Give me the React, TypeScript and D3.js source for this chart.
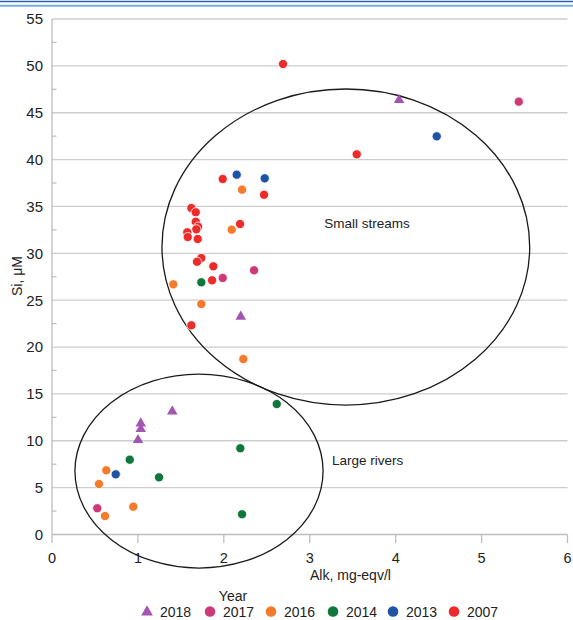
import React from "react";
import * as d3 from "d3";

const W = 573;
const H = 620;

const years = ["2018", "2017", "2016", "2014", "2013", "2007"];
const colors = ["#a455b1", "#cc3a78", "#f47a2c", "#10763b", "#1f53a6", "#ee2b2b"];

const x2018 = [2.197, 4.04, 1.033, 1.033, 1.001, 1.4];
const y2018 = [23.24, 46.36, 11.86, 11.26, 10.08, 13.14];

const x2017 = [1.987, 2.352, 5.433, 0.527];
const y2017 = [27.37, 28.19, 46.18, 2.8];

const x2016 = [2.212, 2.092, 1.412, 1.738, 2.227, 0.632, 0.547, 0.617, 0.946];
const y2016 = [36.79, 32.52, 26.69, 24.59, 18.72, 6.85, 5.39, 1.97, 2.97];

const x2014 = [1.738, 2.616, 2.192, 0.905, 1.246, 2.212];
const y2014 = [26.91, 13.92, 9.2, 7.98, 6.1, 2.16];

const x2013 = [2.15, 2.476, 4.478, 0.742];
const y2013 = [38.39, 38.0, 42.48, 6.42];

const x2007 = [2.689, 3.547, 1.987, 2.468, 1.622, 1.673, 1.673, 1.7, 1.68, 1.575, 1.58, 1.696, 2.189, 1.738, 1.688, 1.878, 1.863, 1.622];
const y2007 = [50.2, 40.56, 37.93, 36.25, 34.83, 34.38, 33.37, 32.84, 32.56, 32.24, 31.74, 31.53, 33.13, 29.5, 29.1, 28.61, 27.12, 22.32];

const seriesX = [x2018, x2017, x2016, x2014, x2013, x2007];
const seriesY = [y2018, y2017, y2016, y2014, y2013, y2007];

const xTicks = [0, 1, 2, 3, 4, 5, 6];
const yTicks = [0, 5, 10, 15, 20, 25, 30, 35, 40, 45, 50, 55];
const yMinorTicks = [2.5, 7.5, 12.5, 17.5, 22.5, 27.5, 32.5, 37.5, 42.5, 47.5, 52.5];

const groupNames = ["Small streams", "Large rivers"];
const groupCx = [3.42, 1.711];
const groupCy = [30.67, 6.77];
const groupRx = [2.14, 1.444];
const groupRy = [16.86, 10.35];
const groupLabelX = [3.17, 3.26];
const groupLabelY = [33.2, 7.9];

const FONT = "'Liberation Sans', Arial, sans-serif";

export default function App() {
  const x = d3.scaleLinear().domain([0, 6]).range([52, 567.5]);
  const y = d3.scaleLinear().domain([0, 55]).range([534.5, 19]);
  const tri = d3.symbol().type(d3.symbolTriangle).size(48)();
  const triLegend = d3.symbol().type(d3.symbolTriangle).size(60)();

  const legendX = [147, 210, 271, 333, 393, 454];

  return (
    <svg
      width={W}
      height={H}
      style={{ position: "absolute", left: 0, top: 0, display: "block", background: "#fff" }}
      fontFamily={FONT}
    >
      <rect x={0} y={0} width={W} height={H} fill="#fff" />
      <line x1={0} x2={W} y1={1.5} y2={1.5} stroke="#2b66ad" strokeWidth={1.6} />
      <line x1={0} x2={W} y1={5.8} y2={5.8} stroke="#74aee0" strokeWidth={2} />

      {/* gridlines */}
      {yTicks.filter((t) => t > 0).map((t) => (
        <line key={"g" + t} x1={x(0)} x2={x(6)} y1={y(t)} y2={y(t)} stroke="#cdcdcd" strokeWidth={1.3} />
      ))}
      {yMinorTicks.map((t) => (
        <line key={"m" + t} x1={x(0)} x2={x(0) + 4.5} y1={y(t)} y2={y(t)} stroke="#bdbdbd" strokeWidth={1.2} />
      ))}
      {/* axes */}
      <line x1={x(0)} x2={x(0)} y1={y(55)} y2={y(0)} stroke="#bdbdbd" strokeWidth={1.3} />
      <line x1={x(0)} x2={x(6)} y1={y(0)} y2={y(0)} stroke="#bdbdbd" strokeWidth={1.3} />
      {xTicks.map((t) => (
        <line key={"xt" + t} x1={x(t)} x2={x(t)} y1={y(0)} y2={y(0) + 8.5} stroke="#bdbdbd" strokeWidth={1.3} />
      ))}

      {/* tick labels */}
      {yTicks.map((t) => (
        <text key={"yl" + t} x={43} y={y(t)} dy="0.36em" textAnchor="end" fontSize={15} fill="#222">
          {t}
        </text>
      ))}
      {xTicks.map((t) => (
        <text key={"xl" + t} x={x(t)} y={558} dy="0.36em" textAnchor="middle" fontSize={14.5} fill="#222">
          {t}
        </text>
      ))}

      <text x={310} y={575} dy="0.36em" fontSize={14} fill="#222">Alk, mg-eqv/l</text>
      <text transform={`translate(17,${276}) rotate(-90)`} textAnchor="middle" dy="0.36em" fontSize={14} fill="#222">
        Si, μM
      </text>

      {/* ellipses */}
      {groupNames.map((g, i) => (
        <g key={g}>
          <ellipse
            cx={x(groupCx[i])}
            cy={y(groupCy[i])}
            rx={x(groupRx[i]) - x(0)}
            ry={y(0) - y(groupRy[i])}
            fill="none"
            stroke="#1a1a1a"
            strokeWidth={1.3}
          />
          <text x={x(groupLabelX[i])} y={y(groupLabelY[i])} dy="0.36em" fontSize={13.5} fill="#222">
            {g}
          </text>
        </g>
      ))}

      {/* points */}
      {years.map((yr, si) => (
        <g key={yr}>
          {seriesX[si].map((vx, j) =>
            si === 0 ? (
              <path
                key={j}
                d={tri}
                transform={`translate(${x(vx)},${y(seriesY[si][j])})`}
                fill={colors[si]}
              />
            ) : (
              <circle
                key={j}
                cx={x(vx)}
                cy={y(seriesY[si][j])}
                r={4.6}
                fill={colors[si]}
                stroke="#fff"
                strokeWidth={0.8}
              />
            )
          )}
        </g>
      ))}

      {/* legend */}
      <text x={233} y={596} dy="0.36em" textAnchor="middle" fontSize={14} fill="#222">Year</text>
      {years.map((yr, i) => (
        <g key={"lg" + yr}>
          {i === 0 ? (
            <path d={triLegend} transform={`translate(${legendX[i]},${612})`} fill={colors[i]} />
          ) : (
            <circle cx={legendX[i]} cy={611.5} r={5.3} fill={colors[i]} />
          )}
          <text x={legendX[i] + 13} y={611.5} dy="0.36em" fontSize={14} fill="#222">
            {yr}
          </text>
        </g>
      ))}
    </svg>
  );
}
